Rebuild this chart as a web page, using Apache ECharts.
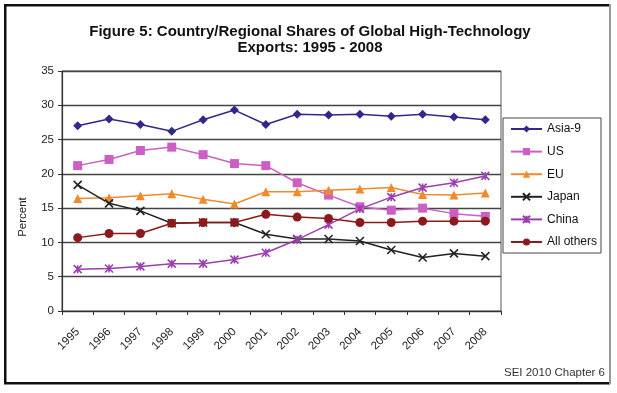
<!DOCTYPE html>
<html>
<head>
<meta charset="utf-8">
<script src="https://cdn.jsdelivr.net/npm/echarts@6/dist/echarts.min.js"></script>
<style>
html,body{margin:0;padding:0;background:#fff;}
#chart{width:617px;height:393px;}
</style>
</head>
<body>
<div id="chart"></div>
<script>
const years = ['1995','1996','1997','1998','1999','2000','2001','2002','2003','2004','2005','2006','2007','2008'];
const asia9 = [27.0,28.0,27.2,26.2,27.9,29.3,27.2,28.7,28.6,28.7,28.4,28.7,28.3,27.9];
const us = [21.2,22.1,23.4,23.9,22.8,21.5,21.2,18.7,16.9,15.2,14.7,15.0,14.2,13.8];
const eu = [16.4,16.5,16.8,17.1,16.3,15.6,17.4,17.4,17.6,17.8,18.0,17.0,16.9,17.2];
const japan = [18.4,15.7,14.6,12.8,12.9,12.9,11.2,10.5,10.5,10.2,8.9,7.8,8.4,8.0];
const china = [6.1,6.2,6.5,6.9,6.9,7.5,8.5,10.4,12.6,14.9,16.6,18.0,18.7,19.7];
const allOthers = [10.7,11.3,11.3,12.8,12.9,12.9,14.1,13.7,13.5,12.9,12.9,13.1,13.1,13.1];
const yTicks = [0,5,10,15,20,25,30,35];

const FONT = 'Liberation Sans, Arial, sans-serif';
const chart = echarts.init(document.getElementById('chart'));

function mk(name, data, color, symbol, size, extra) {
  return Object.assign({
    name: name, type: 'line', data: data,
    symbol: symbol, symbolSize: size,
    lineStyle: {color: color, width: 1.5},
    itemStyle: {color: color, borderColor: color, borderWidth: 0},
    animation: false
  }, extra || {});
}

chart.setOption({
  backgroundColor: '#fff',
  animation: false,
  title: {
    text: 'Figure 5: Country/Regional Shares of Global High-Technology\nExports: 1995 - 2008',
    left: 305, top: 19, textAlign: 'center',
    textStyle: {fontFamily: FONT, fontSize: 15, fontWeight: 'bold', color: '#111', lineHeight: 16}
  },
  grid: {left: 62, right: 116, top: 71, bottom: 82, show: true, borderColor: '#555', borderWidth: 1},
  legend: {
    orient: 'vertical', left: 510, top: 122.5, padding: 0,
    itemWidth: 31, itemHeight: 9, itemGap: 9.6,
    textStyle: {fontFamily: FONT, fontSize: 12, color: '#111', lineHeight: 13},
    data: ['Asia-9','US','EU','Japan','China','All others']
  },
  xAxis: {
    type: 'category', data: years, boundaryGap: true,
    axisLine: {lineStyle: {color: '#333', width: 1.2}},
    axisTick: {show: true, length: 4, lineStyle: {color: '#333'}},
    axisLabel: {rotate: 45, fontFamily: FONT, fontSize: 11.5, color: '#222', margin: 19, interval: 0}
  },
  yAxis: {
    type: 'value', min: 0, max: 35, interval: 5,
    axisLine: {show: true, lineStyle: {color: '#333', width: 1.2}},
    axisTick: {show: true, length: 4, lineStyle: {color: '#333'}},
    axisLabel: {fontFamily: FONT, fontSize: 11.5, color: '#222', margin: 8,
      formatter: function(v){ return yTicks.indexOf(v) >= 0 ? String(v) : ''; }},
    splitLine: {lineStyle: {color: '#444', width: 1.3}}
  },
  series: [
    mk('Asia-9', asia9, '#33288a', 'diamond', 9),
    mk('US', us, '#cc5fc4', 'rect', 9),
    mk('EU', eu, '#f08a2c', 'triangle', 9),
    mk('Japan', japan, '#222222', 'path://M0,0L10,10M10,0L0,10', 8,
       {itemStyle: {color: '#222222', borderColor: '#222222', borderWidth: 1.6}}),
    mk('China', china, '#9b3fae', 'path://M0,0L10,10M10,0L0,10M5,0L5,10', 8,
       {itemStyle: {color: '#9b3fae', borderColor: '#9b3fae', borderWidth: 1.6}}),
    mk('All others', allOthers, '#8b1a1a', 'circle', 9)
  ],
  graphic: [
    {type: 'rect', shape: {x: 503, y: 118, width: 98, height: 135}, style: {fill: null, stroke: '#444', lineWidth: 1}, z: 10},
    {type: 'text', x: 23, y: 217, rotation: Math.PI/2, style: {x: 0, y: 0, text: 'Percent', font: '11.5px ' + FONT, fill: '#222', textAlign: 'center', textVerticalAlign: 'middle'}},
    {type: 'text', style: {x: 605, y: 373, text: 'SEI 2010 Chapter 6', font: '11.5px ' + FONT, fill: '#333', textAlign: 'right', textVerticalAlign: 'middle'}},
    {type: 'rect', shape: {x: 4, y: 4, width: 606, height: 2.5}, style: {fill: '#111'}},
    {type: 'rect', shape: {x: 4, y: 4, width: 2.5, height: 380}, style: {fill: '#111'}},
    {type: 'rect', shape: {x: 4, y: 382, width: 606, height: 2.5}, style: {fill: '#111'}},
    {type: 'rect', shape: {x: 609, y: 4, width: 2, height: 380}, style: {fill: '#999'}}
  ]
});
</script>
</body>
</html>
